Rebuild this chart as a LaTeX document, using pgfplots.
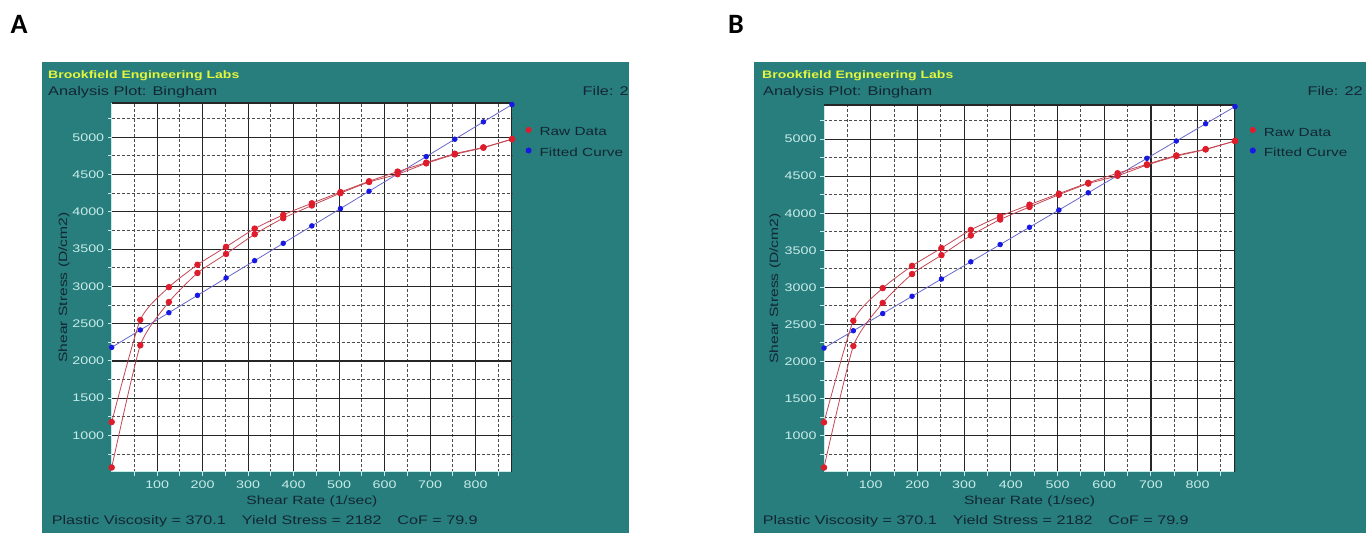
\documentclass[border=0pt]{standalone}
\usepackage{pgfplots}
\pgfplotsset{compat=1.18}
\usepackage{pgfplotstable}
\usepackage{fontspec}
\setmainfont{Liberation Sans}
\newfontfamily\scr{Liberation Sans}[FakeStretch=1.3]
\newfontfamily\carl{Carlito}
\definecolor{teal1}{RGB}{40,126,124}
\definecolor{ttext}{RGB}{18,38,52}
\definecolor{tick1}{RGB}{200,236,236}
\definecolor{ytitle}{RGB}{228,246,60}
\definecolor{rawred}{RGB}{222,28,44}
\definecolor{rawline}{RGB}{196,72,84}
\definecolor{fitblue}{RGB}{24,24,228}
\definecolor{fitline}{RGB}{104,104,204}

\pgfplotstableread{
x      up    down  fit
0      1180  570   2182
62.86  2550  2210  2415
125.71 2990  2790  2647
188.57 3290  3180  2880
251.43 3530  3435  3113
314.29 3775  3700  3345
377.14 3960  3915  3578
440.00 4115  4085  3811
502.86 4265  4250  4043
565.71 4410  4400  4276
628.57 4540  4505  4509
691.43 4660  4650  4741
754.29 4780  4770  4974
817.14 4865  4860  5207
880.00 4975  4975  5439
}\bdata

\pgfplotsset{brook/.style={
  scale only axis, anchor=south west,
  xmin=0, xmax=880, ymin=510, ymax=5460,
  axis background/.style={fill=white},
  xtick={100,200,...,800}, minor xtick={50,150,...,850},
  ytick={1000,1500,...,5000}, minor ytick={750,1250,...,5250},
  grid=both,
  major grid style={draw=black!85, line width=1.2pt},
  minor grid style={draw=black!70, line width=1pt, dash pattern=on 3pt off 2pt},
  axis x line*=bottom, axis y line*=left,
  axis line style={draw=tick1, line width=1pt, -},
  tick align=outside, major tick length=4pt, minor tick length=4pt,
  tick style={draw=tick1, line width=1pt},
  every minor tick/.append style={draw=tick1, line width=1pt},
  /pgf/number format/assume math mode=true,
  /pgf/number format/1000 sep={},
  ticklabel style={font=\scr\fontsize{11}{12}\selectfont, text=tick1},
  xticklabel style={yshift=-1.5pt},
  label style={font=\scr\fontsize{12}{14}\selectfont, text=ttext},
  xlabel={Shear Rate (1/sec)}, ylabel={Shear Stress (D/cm2)},
  xlabel style={at={(axis description cs:0.5,-0.081)}, anchor=center},
  ylabel style={at={(axis description cs:-0.119,0.5)}, anchor=center},
  legend style={draw=none, fill=none, inner sep=0pt, outer sep=0pt,
    font=\scr\fontsize{11.8}{14}\selectfont, text=ttext,
    row sep=9pt,
    nodes={inner sep=0pt, text height=8.5pt, text depth=2.5pt},
    /tikz/every odd column/.append style={column sep=8pt}},
  legend cell align=left,
  reverse legend,
  clip=true,
}}

\begin{document}
\begin{tikzpicture}
\useasboundingbox (0,0) rectangle (1366pt,535pt);
\fill[teal1] (42pt,2pt) rectangle (629pt,473pt);
\fill[teal1] (754pt,2pt) rectangle (1366pt,473pt);
\node[anchor=center, inner sep=0pt, font=\carl\bfseries\fontsize{28}{30}\selectfont] at (19pt,511pt) {A};
\node[anchor=center, inner sep=0pt, font=\carl\bfseries\fontsize{28}{30}\selectfont] at (736pt,511pt) {B};

% Panel A texts
\node[anchor=base west, inner sep=0pt, text=ytitle, font=\scr\bfseries\fontsize{10.8}{12}\selectfont] at (48pt,456pt) {Brookfield Engineering Labs};
\node[anchor=base west, inner sep=0pt, text=ttext, font=\scr\fontsize{12.6}{14}\selectfont] at (48pt,439.5pt) {Analysis Plot: Bingham};
\node[anchor=base east, inner sep=0pt, text=ttext, font=\scr\fontsize{12.6}{14}\selectfont] at (629pt,439.5pt) {File: 2};
\node[anchor=base west, inner sep=0pt, text=ttext, font=\scr\fontsize{12.4}{14}\selectfont] at (51.7pt,10.5pt) {Plastic Viscosity = 370.1\hspace{16pt}Yield Stress = 2182\hspace{16pt}CoF = 79.9};

% Panel B texts
\node[anchor=base west, inner sep=0pt, text=ytitle, font=\scr\bfseries\fontsize{10.8}{12}\selectfont] at (762pt,456pt) {Brookfield Engineering Labs};
\node[anchor=base west, inner sep=0pt, text=ttext, font=\scr\fontsize{12.6}{14}\selectfont] at (763pt,439.5pt) {Analysis Plot: Bingham};
\node[anchor=base east, inner sep=0pt, text=ttext, font=\scr\fontsize{12.6}{14}\selectfont] at (1363pt,439.5pt) {File: 22};
\node[anchor=base west, inner sep=0pt, text=ttext, font=\scr\fontsize{12.4}{14}\selectfont] at (762.7pt,10.5pt) {Plastic Viscosity = 370.1\hspace{16pt}Yield Stress = 2182\hspace{16pt}CoF = 79.9};

% Panel A axis
\begin{axis}[brook, at={(111.7pt,63pt)}, width=400.3pt, height=369pt,
  legend style={at={(axis description cs:1.034,0.935)}, anchor=north west}]
\addplot[fitline, line width=0.8pt, mark=*, mark size=2.3pt, mark options={fill=fitblue, draw=fitblue},
  legend image code/.code={\fill[fitblue] (0pt,3pt) circle (2.6pt);}] table[x=x,y=fit] {\bdata};
\addlegendentry{Fitted Curve}
\addplot[rawline, line width=0.8pt, smooth, tension=0.35, mark=*, mark size=2.8pt, mark options={fill=rawred, draw=rawred},
  legend image code/.code={\fill[rawred] (0pt,3pt) circle (2.6pt);}] table[x=x,y=down] {\bdata};
\addlegendentry{Raw Data}
\addplot[rawline, line width=0.8pt, smooth, tension=0.35, mark=*, mark size=2.8pt, mark options={fill=rawred, draw=rawred}, forget plot] table[x=x,y=up] {\bdata};
\draw[black!85, line width=1.2pt] (rel axis cs:0,1) -- (rel axis cs:1,1) -- (rel axis cs:1,0);
\end{axis}

% Panel B axis
\begin{axis}[brook, at={(824pt,63pt)}, width=411pt, height=367pt,
  legend style={at={(axis description cs:1.036,0.94)}, anchor=north west}]
\addplot[fitline, line width=0.8pt, mark=*, mark size=2.3pt, mark options={fill=fitblue, draw=fitblue},
  legend image code/.code={\fill[fitblue] (0pt,3pt) circle (2.6pt);}] table[x=x,y=fit] {\bdata};
\addlegendentry{Fitted Curve}
\addplot[rawline, line width=0.8pt, smooth, tension=0.35, mark=*, mark size=2.8pt, mark options={fill=rawred, draw=rawred},
  legend image code/.code={\fill[rawred] (0pt,3pt) circle (2.6pt);}] table[x=x,y=down] {\bdata};
\addlegendentry{Raw Data}
\addplot[rawline, line width=0.8pt, smooth, tension=0.35, mark=*, mark size=2.8pt, mark options={fill=rawred, draw=rawred}, forget plot] table[x=x,y=up] {\bdata};
\draw[black!85, line width=1.2pt] (rel axis cs:0,1) -- (rel axis cs:1,1) -- (rel axis cs:1,0);
\end{axis}
\end{tikzpicture}
\end{document}
